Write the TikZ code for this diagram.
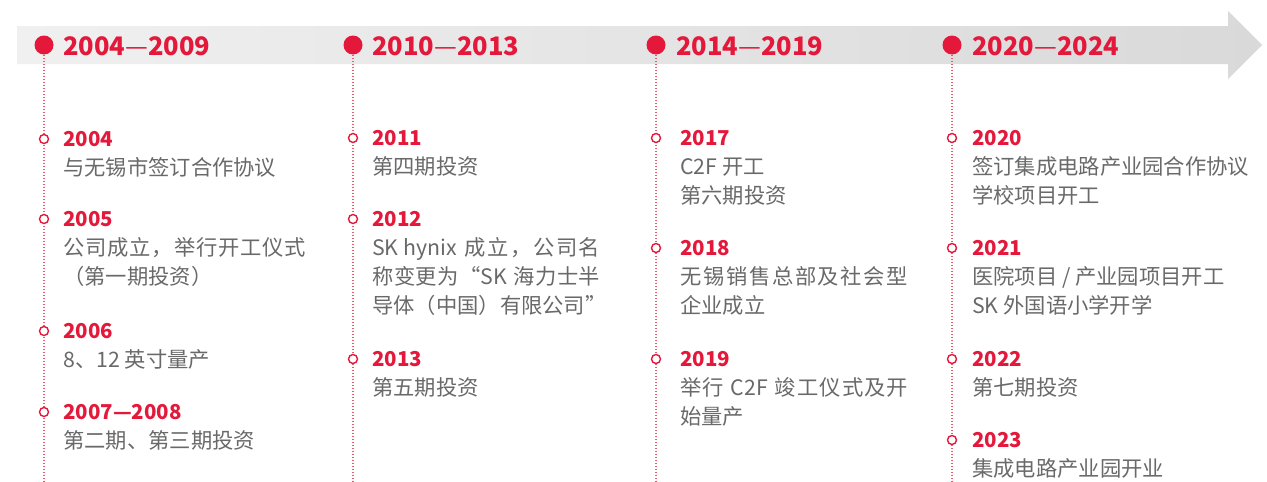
\documentclass[tikz,border=0pt]{standalone}
\usepackage{fontspec}
\setmainfont{Noto Sans CJK SC}
\definecolor{skred}{HTML}{E3183A}
\definecolor{sktext}{HTML}{696969}
\definecolor{skdot}{HTML}{EA5C70}
\definecolor{bandL}{HTML}{F0F0F0}
\definecolor{bandR}{HTML}{D9D9D9}
\newcommand\spreadloop[1]{\ifx\relax#1\else#1\hfil\expandafter\spreadloop\fi}
\newcommand\spread[2]{\makebox[#1][s]{\spreadloop#2\relax\unskip}}
\newcommand\desclines[1]{\vtop{\baselineskip=29pt\lineskiplimit=-50pt\lineskip=0pt\halign{##\hfil\cr#1\crcr}}}
\newcommand\hdash{{\mdseries —}}
\newcommand\tlev[6]{%
  \node[marker] (m#1) at (#2,#4) {};
  \node[yearlbl] (y#1) at (#3,#4+7.6) {#5};
  \node[desclbl] (d#1) at (#3,#4+36) {\desclines{#6}};
}
\begin{document}
\begin{tikzpicture}[x=1pt,y=-1pt,
  bigdot/.style={circle,fill=skred,inner sep=0pt,minimum size=19pt},
  marker/.style={circle,draw=skred,fill=white,line width=1.4pt,inner sep=0pt,minimum size=9pt},
  dotline/.style={skdot,line width=1.3pt,dash pattern=on 1.2pt off 1.8pt},
  headlbl/.style={anchor=base west,inner sep=0pt,text=skred,font=\fontsize{25.5}{30}\selectfont\bfseries},
  yearlbl/.style={anchor=base west,inner sep=0pt,text=skred,font=\fontsize{20.5}{25}\selectfont\bfseries},
  desclbl/.style={anchor=base west,inner sep=0pt,text=sktext,font=\fontsize{21.3}{29}\selectfont}]
\useasboundingbox (0,0) rectangle (1267,482);
% banner arrow
\shade[left color=bandL,right color=bandR]
  (17,26) -- (1228,26) -- (1228,11) -- (1262,45) -- (1228,79) -- (1228,64) -- (17,64) -- cycle;
% header dots and labels
\node[bigdot] (c1) at (44,45) {};
\node[bigdot] (c2) at (353,45) {};
\node[bigdot] (c3) at (656,45) {};
\node[bigdot] (c4) at (952,45) {};
\node[headlbl] (h1) at (63,55) {2004\hdash 2009};
\node[headlbl] (h2) at (372,55) {2010\hdash 2013};
\node[headlbl] (h3) at (676,55) {2014\hdash 2019};
\node[headlbl] (h4) at (972,55) {2020\hdash 2024};
% vertical dotted lines
\coordinate (e1) at (44,482);
\coordinate (e2) at (353,482);
\coordinate (e3) at (656,482);
\coordinate (e4) at (952,482);
\draw[dotline] (c1.south) -- (e1);
\draw[dotline] (c2.south) -- (e2);
\draw[dotline] (c3.south) -- (e3);
\draw[dotline] (c4.south) -- (e4);
% cut-off markers at the bottom
\node[marker] (b1) at (44,487) {};
\node[marker] (b2) at (353,487) {};
\node[marker] (b3) at (656,487) {};
\node[marker] (b4) at (952,487) {};
% column 1
\tlev{a1}{44}{63}{139}{2004}{与无锡市签订合作协议}
\tlev{a2}{44}{63}{219}{2005}{\spread{243pt}{公司成立，举行开工仪式}\cr （第一期投资）}
\tlev{a3}{44}{63}{331}{2006}{8、12 英寸量产}
\tlev{a4}{44}{63}{412}{2007—2008}{第二期、第三期投资}
% column 2
\tlev{b1}{353}{372}{138}{2011}{第四期投资}
\tlev{b2}{353}{372}{219}{2012}{\spread{228pt}{{SK hynix}\ 成立，公司名}\cr \spread{228pt}{称变更为{“SK}\ 海力士半}\cr 导体（中国）有限公司”}
\tlev{b3}{353}{372}{359}{2013}{第五期投资}
% column 3
\tlev{c1}{656}{680}{138}{2017}{C2F 开工\cr 第六期投资}
\tlev{c2}{656}{680}{248}{2018}{\spread{228pt}{无锡销售总部及社会型}\cr 企业成立}
\tlev{c3}{656}{680}{359}{2019}{\spread{228pt}{举行\ {C2F}\ 竣工仪式及开}\cr 始量产}
% column 4
\tlev{d1}{952}{972}{138}{2020}{签订集成电路产业园合作协议\cr 学校项目开工}
\tlev{d2}{952}{972}{248}{2021}{医院项目 / 产业园项目开工\cr SK 外国语小学开学}
\tlev{d3}{952}{972}{359}{2022}{第七期投资}
\tlev{d4}{952}{972}{440}{2023}{集成电路产业园开业}
\end{tikzpicture}
\end{document}
